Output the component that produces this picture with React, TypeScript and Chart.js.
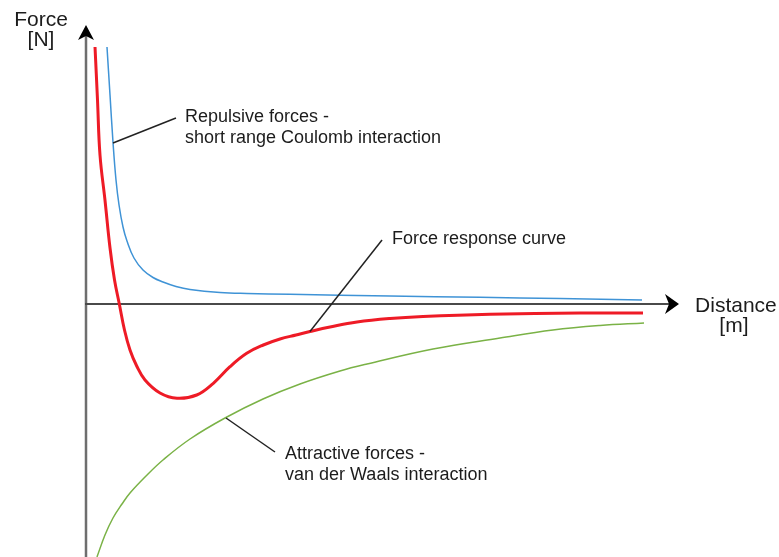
import React, { useEffect, useRef } from "react";
import { Chart, registerables } from "chart.js";

Chart.register(...registerables);

// Distance (arbitrary units) and force (arbitrary units)
const repulsiveX = [0.354, 0.405, 0.455, 0.506, 0.557, 0.624, 0.691, 0.809, 0.961, 1.13, 1.298, 1.518, 1.754, 2.26, 2.715, 3.44, 5.126, 6.644, 7.993, 9.376];
const repulsiveY = [5.14, 4.18, 3.24, 2.48, 1.98, 1.54, 1.26, 0.92, 0.68, 0.53, 0.44, 0.35, 0.29, 0.23, 0.21, 0.194, 0.16, 0.134, 0.11, 0.08];

const responseX = [0.152, 0.194, 0.236, 0.32, 0.405, 0.481, 0.562, 0.649, 0.742, 0.855, 0.995, 1.248, 1.535, 1.867, 2.147, 2.428, 2.71, 2.99, 3.272, 3.541, 3.777, 4.115, 4.57, 5.126, 5.683, 6.813, 8.331, 9.393];
const responseY = [5.14, 4.08, 2.98, 2.08, 1.12, 0.48, 0, -0.52, -0.92, -1.24, -1.52, -1.78, -1.886, -1.82, -1.586, -1.254, -0.986, -0.82, -0.7, -0.62, -0.55, -0.46, -0.36, -0.29, -0.25, -0.206, -0.18, -0.18];

const attractiveX = [0.185, 0.32, 0.455, 0.607, 0.742, 1.029, 1.298, 1.754, 2.344, 2.985, 3.609, 4.283, 4.739, 5.852, 6.981, 7.875, 8.668, 9.41];
const attractiveY = [-5.06, -4.62, -4.28, -4.0, -3.78, -3.42, -3.12, -2.7, -2.28, -1.9, -1.6, -1.34, -1.2, -0.9, -0.68, -0.52, -0.43, -0.38];

// Annotation texts and anchors (data units)
const annotationLines = [
  { text: ["Repulsive forces -", "short range Coulomb interaction"], from: [0.455, 3.22], to: [1.517, 3.72], textAt: [1.669, 3.64] },
  { text: ["Force response curve"], from: [3.777, -0.55], to: [4.992, 1.28], textAt: [5.16, 1.2] },
  { text: ["Attractive forces -", "van der Waals interaction"], from: [2.361, -2.28], to: [3.187, -2.96], textAt: [3.356, -3.1] },
];

const yAxisLabel = ["Force", "[N]"];
const yAxisLabelAt = [-0.759, 5.566];
const xAxisLabel = ["Distance", "[m]"];
const xAxisLabelAt = [10.96, -0.16];

const X_MIN = 0, X_MAX = 10, Y_MIN = -5.06, Y_MAX = 5.58;

const pts = (xs: number[], ys: number[]) => xs.map((x, i) => ({ x, y: ys[i] }));

const FONT = '"Liberation Sans", Arial, Helvetica, sans-serif';

const axesPlugin = {
  id: "arrowAxes",
  beforeDatasetsDraw(chart: any) {
    const { ctx, scales } = chart;
    const xs = scales.x, ys = scales.y;
    const x0 = xs.getPixelForValue(0);
    const y0 = ys.getPixelForValue(0);
    const xEnd = xs.getPixelForValue(X_MAX);
    const yTop = ys.getPixelForValue(Y_MAX);
    const yBottom = ys.getPixelForValue(Y_MIN);
    ctx.save();
    ctx.strokeStyle = "#6e6e6e";
    ctx.lineWidth = 2.5;
    ctx.beginPath();
    ctx.moveTo(x0, yBottom);
    ctx.lineTo(x0, yTop + 10);
    ctx.stroke();
    ctx.strokeStyle = "#4a4a4a";
    ctx.lineWidth = 2;
    ctx.beginPath();
    ctx.moveTo(x0 - 1, y0);
    ctx.lineTo(xEnd - 8, y0);
    ctx.stroke();
    ctx.fillStyle = "#000";
    ctx.beginPath();
    ctx.moveTo(x0, yTop);
    ctx.lineTo(x0 + 8, yTop + 15);
    ctx.lineTo(x0, yTop + 11);
    ctx.lineTo(x0 - 8, yTop + 15);
    ctx.closePath();
    ctx.fill();
    ctx.beginPath();
    ctx.moveTo(xEnd, y0);
    ctx.lineTo(xEnd - 14, y0 - 10);
    ctx.lineTo(xEnd - 10, y0);
    ctx.lineTo(xEnd - 14, y0 + 10);
    ctx.closePath();
    ctx.fill();
    ctx.restore();
  },
  afterDraw(chart: any) {
    const { ctx, scales } = chart;
    const xs = scales.x, ys = scales.y;
    ctx.save();
    ctx.strokeStyle = "#222";
    ctx.lineWidth = 1.5;
    ctx.fillStyle = "#1c1c1c";
    ctx.font = `18px ${FONT}`;
    ctx.textAlign = "left";
    ctx.textBaseline = "alphabetic";
    for (const a of annotationLines) {
      ctx.beginPath();
      ctx.moveTo(xs.getPixelForValue(a.from[0]), ys.getPixelForValue(a.from[1]));
      ctx.lineTo(xs.getPixelForValue(a.to[0]), ys.getPixelForValue(a.to[1]));
      ctx.stroke();
      const tx = xs.getPixelForValue(a.textAt[0]);
      const ty = ys.getPixelForValue(a.textAt[1]);
      a.text.forEach((t, i) => ctx.fillText(t, tx, ty + i * 21));
    }
    ctx.font = `21px ${FONT}`;
    ctx.textAlign = "center";
    const yx = xs.getPixelForValue(yAxisLabelAt[0]);
    const yy = ys.getPixelForValue(yAxisLabelAt[1]);
    yAxisLabel.forEach((t, i) => ctx.fillText(t, yx, yy + i * 20));
    const xx = xs.getPixelForValue(xAxisLabelAt[0]);
    const xy = ys.getPixelForValue(xAxisLabelAt[1]);
    xAxisLabel.forEach((t, i) => ctx.fillText(t, xx - i * 2, xy + i * 20));
    ctx.restore();
  },
};

export default function App() {
  const ref = useRef<HTMLCanvasElement | null>(null);
  useEffect(() => {
    if (!ref.current) return;
    const chart = new Chart(ref.current, {
      type: "line",
      data: {
        datasets: [
          {
            label: "Repulsive forces",
            data: pts(repulsiveX, repulsiveY),
            borderColor: "#3f93d6",
            borderWidth: 1.5,
            pointRadius: 0,
            tension: 0.4,
          },
          {
            label: "Attractive forces",
            data: pts(attractiveX, attractiveY),
            borderColor: "#7ab246",
            borderWidth: 1.5,
            pointRadius: 0,
            tension: 0.4,
          },
          {
            label: "Force response curve",
            data: pts(responseX, responseY),
            borderColor: "#ee1b26",
            borderWidth: 3,
            pointRadius: 0,
            tension: 0.4,
          },
        ],
      },
      options: {
        responsive: false,
        animation: false,
        devicePixelRatio: 1,
        clip: false as any,
        layout: { padding: { left: 86, right: 100, top: 25, bottom: 0 } },
        plugins: { legend: { display: false }, tooltip: { enabled: false } },
        scales: {
          x: { type: "linear", min: X_MIN, max: X_MAX, display: false },
          y: { type: "linear", min: Y_MIN, max: Y_MAX, display: false },
        },
      },
      plugins: [axesPlugin],
    });
    return () => chart.destroy();
  }, []);
  return (
    <div style={{ position: "fixed", left: 0, top: 0, width: 779, height: 557, background: "#fff" }}>
      <canvas ref={ref} width={779} height={557} />
    </div>
  );
}
